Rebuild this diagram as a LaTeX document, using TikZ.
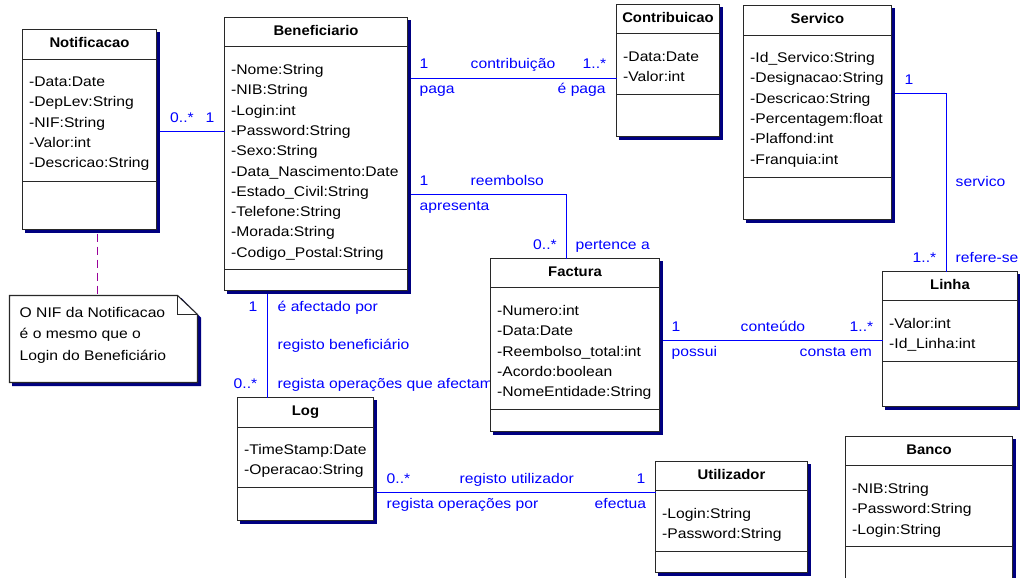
\documentclass[tikz,border=0pt]{standalone}
\usepackage{fontspec}
\setmainfont[FakeStretch=1.12]{Liberation Sans}
\newfontfamily\titlefont[FakeStretch=1.06]{Liberation Sans}
\definecolor{assoc}{RGB}{0,0,255}
\definecolor{shadowblue}{RGB}{0,0,128}
\definecolor{notelink}{RGB}{153,0,153}
\definecolor{boxline}{RGB}{40,40,40}
\tikzset{
  classbox/.style={draw=boxline, line width=1.1pt, fill=white, inner sep=0pt, outer sep=0pt, rectangle},
  shadowfill/.style={fill=shadowblue, draw=none},
  divline/.style={draw=boxline, line width=1pt},
  ctitle/.style={anchor=base, inner sep=0pt, font=\fontsize{14}{16}\titlefont\bfseries},
  attr/.style={anchor=base west, inner sep=0pt, font=\fontsize{14}{16}\selectfont},
  lbl/.style={anchor=base west, inner sep=0pt, text=assoc, font=\fontsize{14}{16}\selectfont},
  assocline/.style={draw=assoc, line width=1pt},
  notelinestyle/.style={draw=notelink, line width=1pt, dash pattern=on 8pt off 5pt},
}
\newcommand\umlclass[8]{%
  \fill[shadowfill] (#2+2.5,#3+2.5) rectangle (#2+#4+3.5,#3+#5+3.5);
  \node[classbox, minimum width=#4pt, minimum height=#5pt, anchor=north west] (#1) at (#2,#3) {};
  \draw[divline] ([yshift=-#6pt]#1.north west) -- ([yshift=-#6pt]#1.north east);
  \draw[divline] ([yshift=-#7pt]#1.north west) -- ([yshift=-#7pt]#1.north east);
  \node[ctitle] (#1-title) at ([yshift=-17.7pt]#1.north) {#8};}
\newcommand\umlattrs[2]{%
  \foreach \a [count=\i] in {#2}{%
    \node[attr] (#1-a\i) at ([xshift=6.5pt,yshift={-(57+20.3*(\i-1))}]#1.north west) {\a};}}
\begin{document}
\begin{tikzpicture}[x=1pt,y=-1pt]
\useasboundingbox (-0.5,-0.5) rectangle (1019.5,577.5);

% label partly hidden by the Factura box
\node[lbl] (r6b) at (277,388.3) {regista operações que afectam};

% classes
\umlclass{notif}{22}{29}{134}{200}{30}{152}{Notificacao}
\umlattrs{notif}{-Data:Date,-DepLev:String,-NIF:String,-Valor:int,-Descricao:String}

\umlclass{benef}{224}{17}{183}{273}{29}{252}{Beneficiario}
\umlattrs{benef}{-Nome:String,-NIB:String,-Login:int,-Password:String,-Sexo:String,-Data\_Nascimento:Date,-Estado\_Civil:String,-Telefone:String,-Morada:String,-Codigo\_Postal:String}

\umlclass{contrib}{616}{4}{103}{132}{29}{90}{Contribuicao}
\umlattrs{contrib}{-Data:Date,-Valor:int}

\umlclass{serv}{743}{5}{148}{214}{30}{172}{Servico}
\umlattrs{serv}{-Id\_Servico:String,-Designacao:String,-Descricao:String,-Percentagem:float,-Plaffond:int,-Franquia:int}

\umlclass{linha}{882}{271}{135}{135}{29}{90}{Linha}
\umlattrs{linha}{-Valor:int,-Id\_Linha:int}

\umlclass{fact}{490}{258}{169}{173}{29}{151}{Factura}
\umlattrs{fact}{-Numero:int,-Data:Date,-Reembolso\_total:int,-Acordo:boolean,-NomeEntidade:String}

\umlclass{util}{655}{461}{152}{111}{29}{90}{Utilizador}
\umlattrs{util}{-Login:String,-Password:String}

\umlclass{banco}{845}{436}{167}{170}{29}{110}{Banco}
\umlattrs{banco}{-NIB:String,-Password:String,-Login:String}

\umlclass{log}{237}{397}{136}{123}{30}{90}{Log}
\umlattrs{log}{-TimeStamp:Date,-Operacao:String}

% note
\coordinate (nlx) at (97,0);
\fill[shadowfill] (11.5,297.5) -- (181,297.5) -- (200.5,317) -- (200.5,385.5) -- (11.5,385.5) -- cycle;
\node[minimum width=188pt, minimum height=87pt, inner sep=0pt, outer sep=0pt, anchor=north west] (note) at (9,295) {};
\filldraw[fill=white, draw=boxline, line width=1.1pt] (note.north west) -- ([xshift=-20pt]note.north east)
  -- ([yshift=-19pt]note.north east) -- (note.south east) -- (note.south west) -- cycle;
\draw[divline] ([xshift=-20pt]note.north east) -- ([xshift=-20pt,yshift=-19pt]note.north east)
  -- ([yshift=-19pt]note.north east);
\node[attr] (note-l1) at ([xshift=10pt,yshift=-22pt]note.north west) {O NIF da Notificacao};
\node[attr] (note-l2) at ([xshift=10pt,yshift=-43pt]note.north west) {é o mesmo que o};
\node[attr] (note-l3) at ([xshift=10pt,yshift=-65pt]note.north west) {Login do Beneficiário};
\draw[notelinestyle] ([yshift=-4pt]notif.south -| nlx) -- (note.north -| nlx);

% helper coordinates
\coordinate (r1) at (0,131);
\coordinate (r2) at (0,78);
\coordinate (r3) at (566,194);
\coordinate (r4) at (946,93);
\coordinate (r5) at (0,340);
\coordinate (r6) at (267,0);
\coordinate (r7) at (0,492);

% Notificacao - Beneficiario
\draw[assocline] ([xshift=3pt]notif.east |- r1) -- (benef.west |- r1);
\node[lbl] (m1a) at (169.5,122) {0..*};
\node[lbl] (m1b) at (205,122) {1};

% Beneficiario - Contribuicao
\draw[assocline] ([xshift=3pt]benef.east |- r2) -- (contrib.west |- r2);
\node[lbl] (m2a) at (419,68.3) {1};
\node[lbl] (n2) at (470,68.3) {contribuição};
\node[lbl] (m2b) at (582,68.3) {1..*};
\node[lbl] (r2a) at (419,93.3) {paga};
\node[lbl] (r2b) at (557,93.3) {é paga};

% Beneficiario - Factura
\draw[assocline] ([xshift=3pt]benef.east |- r3) -| (fact.north -| r3);
\node[lbl] (m3a) at (419,185.3) {1};
\node[lbl] (n3) at (470,185.3) {reembolso};
\node[lbl] (r3a) at (419,209.5) {apresenta};
\node[lbl] (m3b) at (532.5,249) {0..*};
\node[lbl] (r3b) at (575,249) {pertence a};

% Servico - Linha
\draw[assocline] ([xshift=3pt]serv.east |- r4) -| (linha.north -| r4);
\node[lbl] (m4a) at (904,84) {1};
\node[lbl] (n4) at (955,186) {servico};
\node[lbl] (m4b) at (912,261.7) {1..*};
\node[lbl] (r4b) at (955,261.7) {refere-se};

% Factura - Linha
\draw[assocline] ([xshift=3pt]fact.east |- r5) -- (linha.west |- r5);
\node[lbl] (m5a) at (671,331) {1};
\node[lbl] (n5) at (740,331) {conteúdo};
\node[lbl] (m5b) at (849,331) {1..*};
\node[lbl] (r5a) at (671,356) {possui};
\node[lbl] (r5b) at (799,356) {consta em};

% Beneficiario - Log
\draw[assocline] ([yshift=-3pt]benef.south -| r6) -- (log.north -| r6);
\node[lbl] (m6a) at (248,310.7) {1};
\node[lbl] (r6a) at (277,310.7) {é afectado por};
\node[lbl] (n6) at (277,348.7) {registo beneficiário};
\node[lbl] (m6b) at (233,388.3) {0..*};

% Log - Utilizador
\draw[assocline] ([xshift=3pt]log.east |- r7) -- (util.west |- r7);
\node[lbl] (m7a) at (386,483) {0..*};
\node[lbl] (n7) at (459,483) {registo utilizador};
\node[lbl] (m7b) at (636,483) {1};
\node[lbl] (r7a) at (386,508) {regista operações por};
\node[lbl] (r7b) at (594,508) {efectua};
\end{tikzpicture}
\end{document}
